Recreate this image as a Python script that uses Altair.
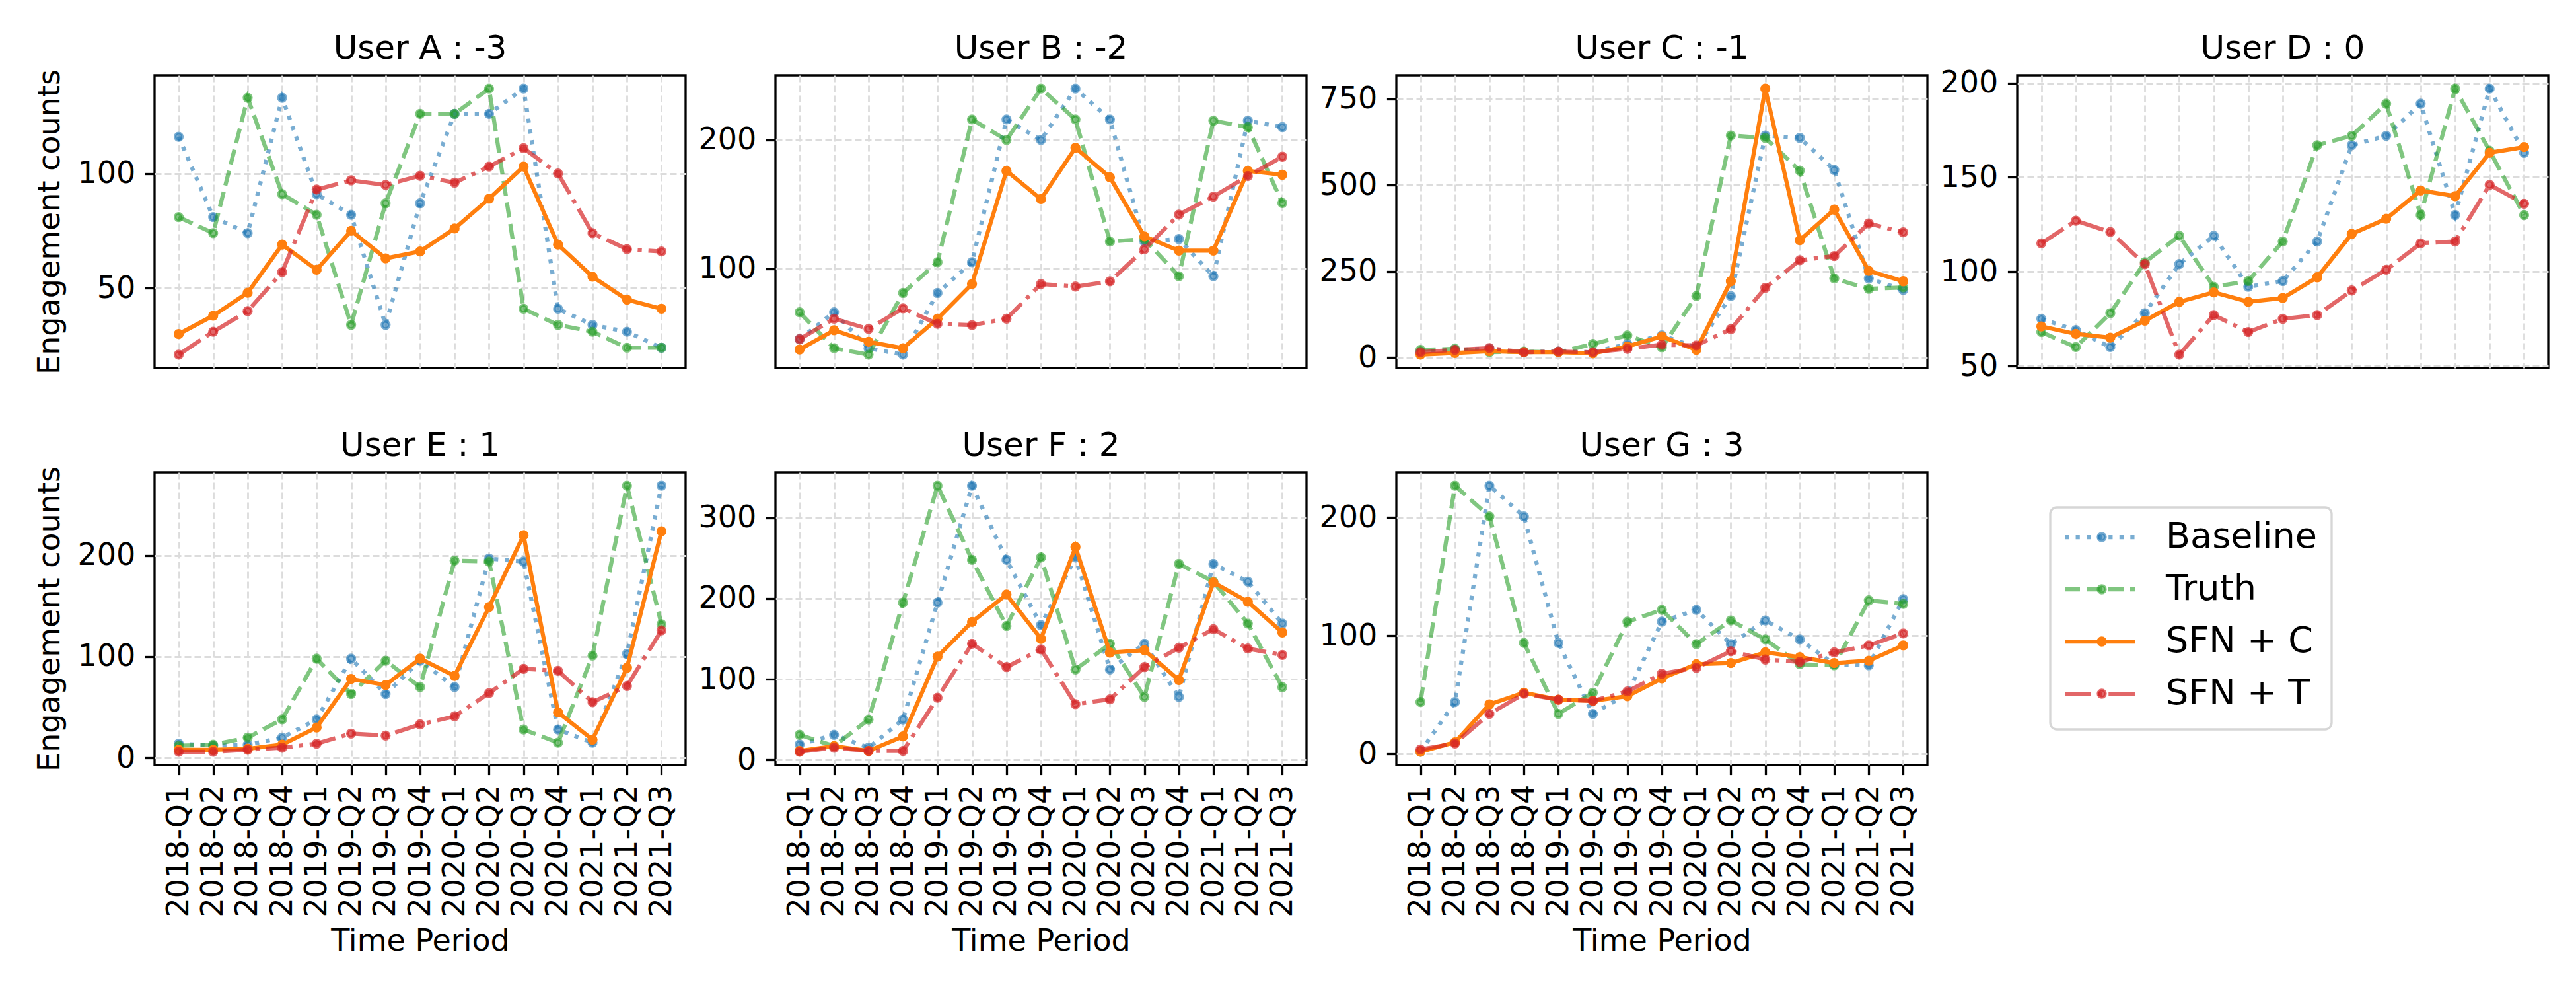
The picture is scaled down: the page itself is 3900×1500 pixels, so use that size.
import altair as alt
import pandas as pd

periods = ["2018-Q1", "2018-Q2", "2018-Q3", "2018-Q4", "2019-Q1", "2019-Q2", "2019-Q3",
           "2019-Q4", "2020-Q1", "2020-Q2", "2020-Q3", "2020-Q4", "2021-Q1", "2021-Q2", "2021-Q3"]
series_names = ["Baseline", "Truth", "SFN + C", "SFN + T"]
panel_titles = ["User A : -3", "User B : -2", "User C : -1", "User D : 0",
                "User E : 1", "User F : 2", "User G : 3"]

a_baseline = [116, 81, 74, 133, 91, 82, 34, 87, 126, 126, 137, 41, 34, 31, 24]
a_truth = [81, 74, 133, 91, 82, 34, 87, 126, 126, 137, 41, 34, 31, 24, 24]
a_sfn_c = [30, 38, 48, 69, 58, 75, 63, 66, 76, 89, 103, 69, 55, 45, 41]
a_sfn_t = [21, 31, 40, 57, 93, 97, 95, 99, 96, 103, 111, 100, 74, 67, 66]
a_ticks = [50, 100]

b_baseline = [45, 66, 38, 33, 81, 105, 216, 200, 240, 216, 121, 123, 94, 215, 210]
b_truth = [66, 38, 33, 81, 105, 216, 200, 240, 216, 121, 123, 94, 215, 210, 151]
b_sfn_c = [37, 52, 43, 38, 61, 88, 176, 154, 194, 171, 125, 114, 114, 176, 173]
b_sfn_t = [45, 61, 53, 69, 57, 56, 61, 88, 86, 90, 115, 142, 156, 172, 187]
b_ticks = [100, 200]

c_baseline = [15, 22, 25, 15, 17, 15, 39, 64, 29, 178, 644, 637, 544, 229, 196]
c_truth = [22, 25, 15, 17, 15, 39, 64, 29, 178, 644, 637, 542, 229, 199, 203]
c_sfn_c = [8, 13, 18, 15, 15, 12, 32, 61, 22, 221, 780, 340, 429, 251, 221]
c_sfn_t = [15, 22, 27, 15, 17, 15, 25, 37, 35, 82, 202, 282, 294, 389, 363]
c_ticks = [0, 250, 500, 750]

d_baseline = [75, 69, 60, 78, 104, 119, 92, 95, 116, 167, 172, 189, 130, 197, 163]
d_truth = [68, 60, 78, 105, 119, 92, 95, 116, 167, 172, 189, 130, 197, 164, 130]
d_sfn_c = [71, 67, 65, 74, 84, 89, 84, 86, 97, 120, 128, 143, 140, 163, 166]
d_sfn_t = [115, 127, 121, 104, 56, 77, 68, 75, 77, 90, 101, 115, 116, 146, 136]
d_ticks = [50, 100, 150, 200]

e_baseline = [14, 12, 13, 20, 38, 98, 63, 96, 70, 197, 194, 28, 15, 103, 269]
e_truth = [12, 13, 20, 38, 98, 63, 96, 70, 195, 194, 28, 15, 101, 269, 132]
e_sfn_c = [8, 8, 9, 13, 30, 78, 72, 98, 81, 149, 220, 45, 18, 89, 224]
e_sfn_t = [6, 6, 8, 10, 14, 24, 22, 33, 41, 64, 88, 86, 55, 71, 126]
e_ticks = [0, 100, 200]

f_baseline = [19, 31, 15, 50, 195, 340, 248, 167, 251, 112, 144, 78, 243, 221, 169]
f_truth = [31, 17, 50, 195, 340, 248, 166, 251, 112, 144, 78, 243, 221, 169, 90]
f_sfn_c = [11, 17, 11, 29, 128, 171, 205, 150, 264, 133, 136, 99, 220, 196, 158]
f_sfn_t = [10, 15, 11, 11, 77, 144, 115, 137, 69, 75, 115, 139, 162, 138, 130]
f_ticks = [0, 100, 200, 300]

g_baseline = [2, 44, 227, 201, 94, 34, 51, 112, 122, 93, 113, 97, 76, 75, 131]
g_truth = [44, 227, 201, 94, 34, 52, 112, 122, 93, 113, 97, 76, 75, 130, 127]
g_sfn_c = [2, 10, 42, 52, 46, 45, 49, 64, 76, 77, 86, 82, 77, 79, 92]
g_sfn_t = [4, 9, 34, 51, 46, 45, 53, 68, 73, 87, 80, 78, 86, 92, 102]
g_ticks = [0, 100, 200]

FONT = "DejaVu Sans"
W, H = 804, 443
LW = 6.25
TICK = 14.6
FRAME = 3.3

styles = {
    "Baseline": {"color": "#1f77b4", "dash": [6.25, 10.3], "op": 0.6},
    "Truth": {"color": "#2ca02c", "dash": [23, 10], "op": 0.6},
    "SFN + C": {"color": "#ff7f0e", "dash": None, "op": 1.0},
    "SFN + T": {"color": "#d62728", "dash": [40, 10, 6.25, 10], "op": 0.7},
}


def panel(title, values, ticks, bottom, first_col):
    allv = [v for vals in values for v in vals]
    lo, hi = min(allv), max(allv)
    m = 0.05 * (hi - lo)
    if bottom:
        xaxis = alt.Axis(labelAngle=270, tickSize=TICK, tickWidth=FRAME, tickColor="black",
                         labelPadding=TICK, labelLimit=0, maxExtent=400,
                         title="Time Period", titlePadding=14,
                         grid=True, domain=False)
    else:
        xaxis = alt.Axis(labels=False, ticks=False, title=None, grid=True, domain=False)
    yaxis = alt.Axis(values=ticks, tickSize=TICK, tickWidth=FRAME, tickColor="black",
                     labelPadding=TICK, grid=True, domain=False,
                     title="Engagement counts" if first_col else None, titlePadding=18)
    x = alt.X("period:N", sort=periods,
              scale=alt.Scale(type="point", domain=periods, padding=0.7), axis=xaxis)
    y = alt.Y("value:Q", scale=alt.Scale(domain=[lo - m, hi + m], nice=False, zero=False),
              axis=yaxis)
    layers = []
    for name, vals in zip(series_names, values):
        df = pd.DataFrame({"period": periods, "value": vals})
        st = styles[name]
        lk = dict(color=st["color"], strokeWidth=LW, opacity=st["op"], strokeCap="butt")
        if st["dash"]:
            lk["strokeDash"] = st["dash"]
        layers.append(alt.Chart(df).mark_line(**lk).encode(x=x, y=y))
        layers.append(alt.Chart(df).mark_circle(
            fill=st["color"], stroke=st["color"], strokeWidth=4.2, size=123,
            fillOpacity=st["op"], strokeOpacity=st["op"], opacity=1).encode(x=x, y=y))
    ttl = alt.Chart(pd.DataFrame({"t": [title]})).mark_text(
        fontSize=50, font=FONT, color="black", align="center", baseline="alphabetic").encode(
        x=alt.value(W / 2), y=alt.value(-25), text="t:N")
    layers.append(ttl)
    return alt.layer(*layers).properties(width=W, height=H)


def legend_panel():
    ly = alt.Y("series:N", scale=alt.Scale(type="point", domain=series_names,
                                          range=[98, 335], padding=0), axis=None)
    box = alt.Chart(pd.DataFrame({"box": [0]})).mark_rect(
        fill="white", stroke="#d6d6d6", strokeWidth=3.3, cornerRadius=10).encode(
        x=alt.value(50), x2=alt.value(476), y=alt.value(53), y2=alt.value(389))
    layers = [box]
    for name in series_names:
        st = styles[name]
        df = pd.DataFrame({"series": [name]})
        rk = dict(color=st["color"], strokeWidth=LW, opacity=st["op"], strokeCap="butt")
        if st["dash"]:
            rk["strokeDash"] = st["dash"]
        layers.append(alt.Chart(df).mark_rule(**rk).encode(
            x=alt.value(72), x2=alt.value(179), y=ly))
        layers.append(alt.Chart(df).mark_circle(
            fill=st["color"], stroke=st["color"], strokeWidth=4.2, size=123,
            fillOpacity=st["op"], strokeOpacity=st["op"], opacity=1).encode(
            x=alt.value(128), y=ly))
        layers.append(alt.Chart(df).mark_text(
            align="left", baseline="middle", fontSize=54, font=FONT, color="black").encode(
            x=alt.value(225), y=ly, text="series:N"))
    return alt.layer(*layers).properties(
        width=W, height=H, view=alt.ViewBackground(stroke="transparent"))


data = [
    (a_baseline, a_truth, a_sfn_c, a_sfn_t, a_ticks),
    (b_baseline, b_truth, b_sfn_c, b_sfn_t, b_ticks),
    (c_baseline, c_truth, c_sfn_c, c_sfn_t, c_ticks),
    (d_baseline, d_truth, d_sfn_c, d_sfn_t, d_ticks),
    (e_baseline, e_truth, e_sfn_c, e_sfn_t, e_ticks),
    (f_baseline, f_truth, f_sfn_c, f_sfn_t, f_ticks),
    (g_baseline, g_truth, g_sfn_c, g_sfn_t, g_ticks),
]

cells = []
for i, (t, d) in enumerate(zip(panel_titles, data)):
    cells.append(panel(t, d[:4], d[4], bottom=(i >= 4), first_col=(i % 4 == 0)))
cells.append(legend_panel())

chart = alt.concat(*cells, columns=4, spacing={"row": 158, "column": 136}, bounds="flush").properties(
    padding={"left": 50, "top": 47, "right": 5, "bottom": 5},
    background="white",
).configure_view(
    stroke="black", strokeWidth=FRAME
).configure_axis(
    labelFont=FONT, labelFontSize=46, labelColor="black",
    titleFont=FONT, titleFontSize=46, titleFontWeight="normal", titleColor="black",
    gridColor="#dcdcdc", gridDash=[10, 5], gridWidth=2.8,
)

chart.save("out.html", embed_options={"renderer": "svg", "actions": False})
